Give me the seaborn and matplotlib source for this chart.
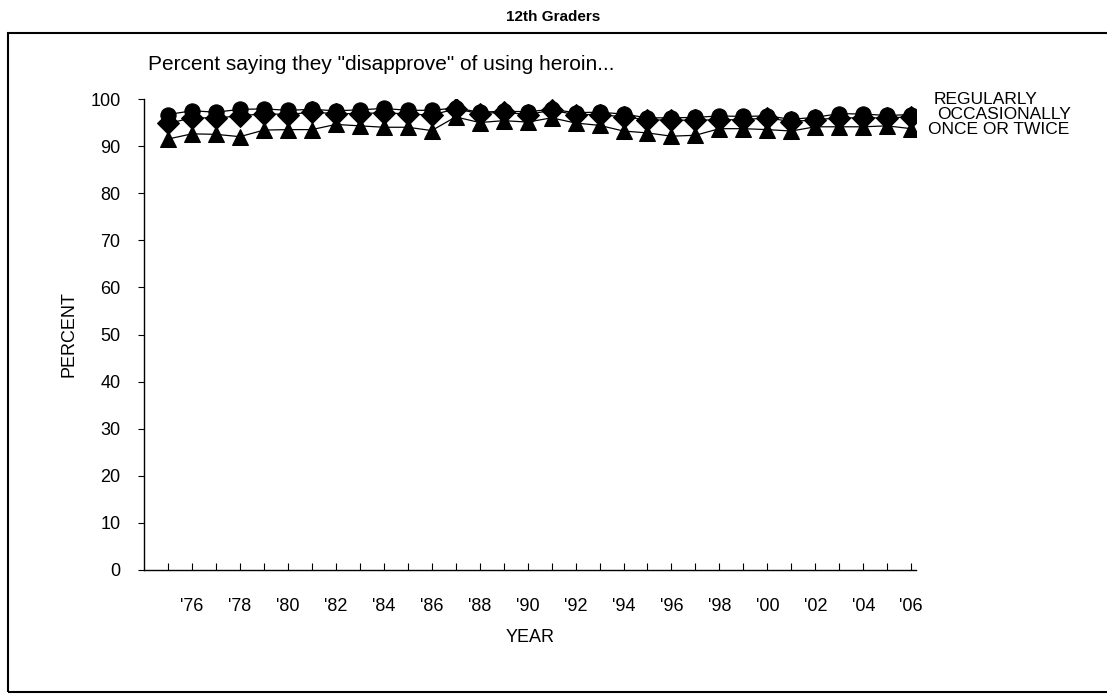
import pandas as pd
import seaborn as sns
import matplotlib.pyplot as plt
from matplotlib.patches import Rectangle

# Dados: percentual que "desaprova" o uso de heroína (12ª série)
years = list(range(1975, 2007))
regularly = [96.7, 97.5, 97.2, 97.8, 97.9, 97.6, 97.8, 97.5, 97.7, 98.0, 97.6, 97.6,
             98.1, 97.2, 97.4, 97.3, 97.8, 97.1, 97.2, 96.8, 96.0, 96.0, 96.1, 96.4,
             96.3, 96.4, 95.7, 96.1, 96.9, 96.8, 96.5, 96.7]
occasionally = [94.8, 96.0, 96.0, 96.4, 96.9, 96.7, 97.2, 96.9, 96.9, 97.1, 96.8, 96.6,
                97.9, 96.9, 97.2, 96.7, 97.6, 96.7, 96.7, 96.2, 95.6, 95.5, 95.5, 95.6,
                95.6, 96.0, 95.2, 95.6, 96.0, 96.0, 96.0, 96.2]
once_or_twice = [91.5, 92.6, 92.5, 92.0, 93.4, 93.5, 93.5, 94.6, 94.3, 94.0, 94.0, 93.3,
                 96.2, 95.0, 95.4, 95.1, 96.0, 94.9, 94.4, 93.2, 92.8, 92.1, 92.3, 93.7,
                 93.7, 93.5, 93.2, 94.1, 94.1, 94.1, 94.3, 93.7]
series_names = ['REGULARLY', 'OCCASIONALLY', 'ONCE OR TWICE']

df = pd.concat([
    pd.DataFrame({'year': years, 'pct': regularly, 'series': 'REGULARLY'}),
    pd.DataFrame({'year': years, 'pct': occasionally, 'series': 'OCCASIONALLY'}),
    pd.DataFrame({'year': years, 'pct': once_or_twice, 'series': 'ONCE OR TWICE'}),
])

sns.set_style('white')
plt.rcParams['font.family'] = ['Liberation Sans', 'DejaVu Sans']
plt.rcParams.update({'text.color': 'black', 'axes.labelcolor': 'black',
                     'xtick.color': 'black', 'ytick.color': 'black'})

fig = plt.figure(figsize=(11.07, 6.98), dpi=100)
ax = fig.add_axes([144 / 1107, 1 - 570 / 698, (916 - 144) / 1107, (570 - 99) / 698])

# Moldura em volta da área do gráfico
fig.patches.append(Rectangle((8 / 1107, 6 / 698), 1.2, 659 / 698, transform=fig.transFigure,
                             fill=False, edgecolor='black', linewidth=1.5))

sns.lineplot(data=df, x='year', y='pct', style='series', style_order=series_names,
             markers={'REGULARLY': 'o', 'OCCASIONALLY': 'D', 'ONCE OR TWICE': '^'},
             dashes=False, color='black', linewidth=0.9, markersize=11,
             markeredgecolor='black', legend=False, ax=ax)

ax.set_xlim(1974, 2006.2)
ax.set_ylim(0, 100)
ax.set_yticks(range(0, 101, 10))
ax.set_xticks(years)
ax.set_xticklabels(["'%02d" % (y % 100) if y % 2 == 0 else '' for y in years])
ax.tick_params(axis='x', direction='in', length=5, pad=20, labelsize=13, bottom=True)
ax.tick_params(axis='y', direction='out', length=4, pad=13, labelsize=13, left=True)
sns.despine(ax=ax)
for s in ['left', 'bottom']:
    ax.spines[s].set_color('black')
    ax.spines[s].set_linewidth(1)

ax.set_xlabel('YEAR', fontsize=13, labelpad=10)
ax.set_ylabel('PERCENT', fontsize=13, labelpad=9)

fig.text(553 / 1107, 1 - 17 / 698, '12th Graders', ha='center', va='center',
         fontsize=11, fontweight='bold')
fig.text(148 / 1107, 1 - 64 / 698, 'Percent saying they "disapprove" of using heroin...',
         ha='left', va='center', fontsize=15)

# Rótulos das séries à direita
fig.text(934 / 1107, 1 - 100 / 698, 'REGULARLY', ha='left', va='center', fontsize=12.5)
fig.text(937 / 1107, 1 - 114.5 / 698, 'OCCASIONALLY', ha='left', va='center', fontsize=12.5)
fig.text(928 / 1107, 1 - 129 / 698, 'ONCE OR TWICE', ha='left', va='center', fontsize=12.5)

plt.savefig('out.png', dpi=100)
